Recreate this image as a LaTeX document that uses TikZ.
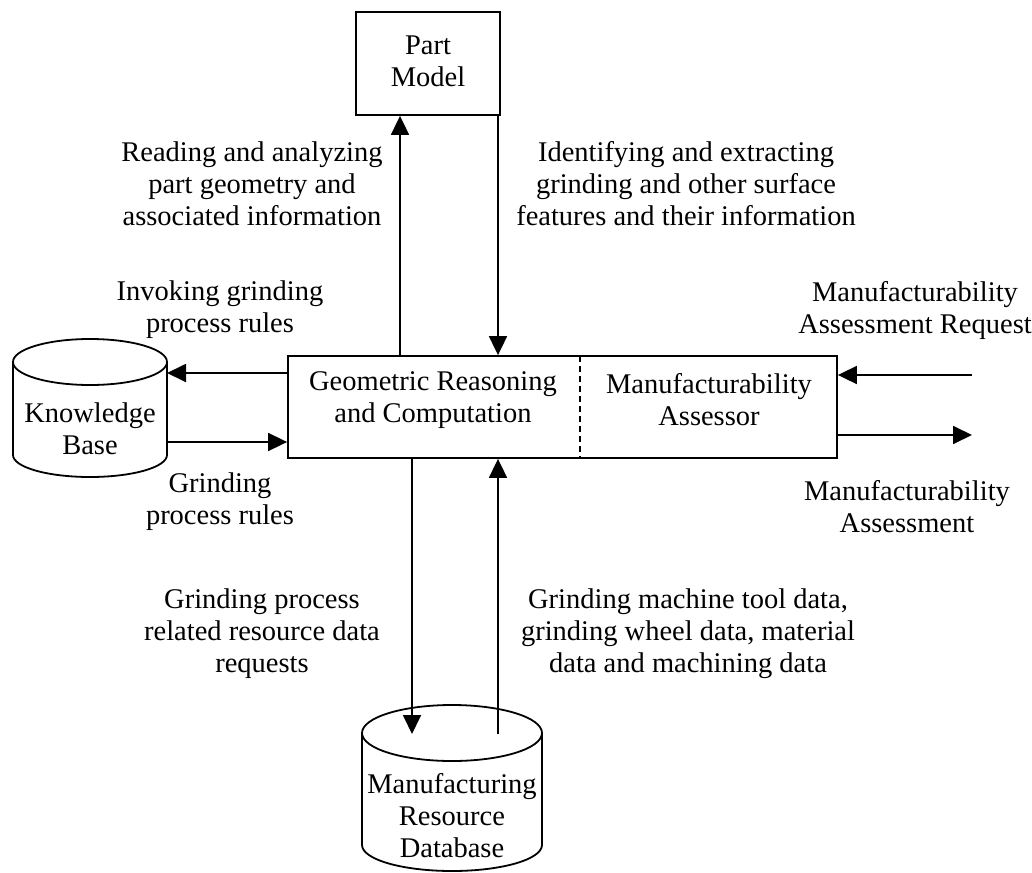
\documentclass[tikz,border=0pt]{standalone}
\usepackage{fontspec}
\setmainfont{Liberation Serif}
\usetikzlibrary{arrows.meta}
\begin{document}
\begin{tikzpicture}[x=1pt,y=-1pt,
  every node/.style={font=\fontsize{28.5}{32}\selectfont, align=center, inner sep=0pt},
  ln/.style={line width=1.8pt},
  arr/.style={ln, -{Triangle[length=19pt,width=18pt]}},
  box/.style={draw, line width=1.8pt}]
\useasboundingbox (0,0) rectangle (1032,872);
% Part Model
\node[box, minimum width=144pt, minimum height=103pt] (pm) at (428,63.5) {};
\node (pmt) at (428,61) {Part\\Model};
% main box
\node[box, minimum width=549pt, minimum height=102pt] (mb) at (562.5,407) {};
\draw[ln, dashed, dash pattern=on 6pt off 4pt] (580,356) -- (580,458);
\node (grc) at (433,400) {Geometric Reasoning\\and Computation};
\node (mas) at (709,400) {Manufacturability\\Assessor};
% Knowledge base cylinder
\draw[ln] (13,362) -- (13,455) arc[start angle=180,end angle=360,x radius=77pt,y radius=22pt] -- (167,362);
\draw[ln] (90,362) ellipse[x radius=77pt,y radius=23pt];
\node (kb) at (90,429) {Knowledge\\Base};
\coordinate (kbin) at (167,373);
\coordinate (kbout) at (167,442);
% MRD cylinder
\draw[ln] (362,733) -- (362,845) arc[start angle=180,end angle=360,x radius=90pt,y radius=26pt] -- (542,733);
\draw[ln] (452,733) ellipse[x radius=90pt,y radius=28pt];
\node (mrd) at (452,816) {Manufacturing\\Resource\\Database};
\coordinate (mrdin) at (412,734);
\coordinate (mrdout) at (498,734);
% external coordinates
\coordinate (reqin) at (972,375);
\coordinate (asout) at (972,435);
% connectors
\draw[arr] (mb.north -| 400,0) -- (pm.south -| 400,0);
\draw[arr] (pm.south -| 498,0) -- (mb.north -| 498,0);
\draw[arr] (mb.west |- kbin) -- (kbin);
\draw[arr] (kbout) -- (mb.west |- kbout);
\draw[arr] (mb.south -| mrdin) -- (mrdin);
\draw[arr] (mrdout) -- (mb.south -| mrdout);
\draw[arr] (reqin) -- (mb.east |- reqin);
\draw[arr] (mb.east |- asout) -- (asout);
% labels
\node (l1) at (252,184) {Reading and analyzing\\part geometry and\\associated information};
\node (l2) at (686,184) {Identifying and extracting\\grinding and other surface\\features and their information};
\node (l3) at (220,310) {Invoking grinding\\process rules};
\node (l4) at (220,502) {Grinding\\process rules};
\node (l5) at (915,310) {Manufacturability\\Assessment Request};
\node (l6) at (907,507) {Manufacturability\\Assessment};
\node (l7) at (262,634) {Grinding process\\related resource data\\requests};
\node (l8) at (688,634) {Grinding machine tool data,\\grinding wheel data, material\\data and machining data};
\end{tikzpicture}
\end{document}
